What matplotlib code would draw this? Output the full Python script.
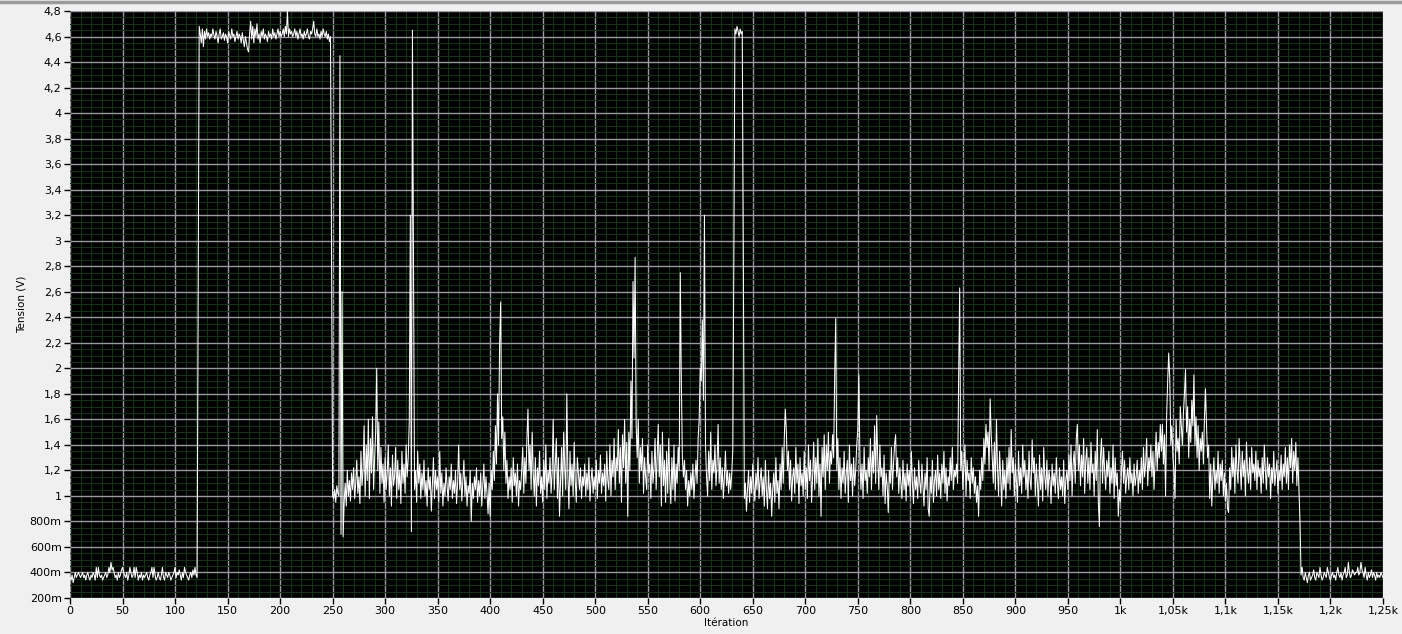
import numpy as np
import matplotlib
matplotlib.use("Agg")
import matplotlib.pyplot as plt
from matplotlib.ticker import MultipleLocator, FuncFormatter
from matplotlib.lines import Line2D

# ---- data (volts, one value per iteration) ----
low_start = [
    0.36,0.34,0.38,0.32,0.36,0.40,0.36,0.38,0.40,0.38,
    0.36,0.38,0.40,0.36,0.38,0.34,0.38,0.40,0.36,0.34,
    0.38,0.36,0.40,0.38,0.34,0.44,0.36,0.44,0.38,0.36,
    0.38,0.34,0.36,0.38,0.40,0.36,0.38,0.44,0.40,0.48,
    0.42,0.44,0.40,0.36,0.38,0.34,0.40,0.36,0.38,0.42,
    0.44,0.40,0.38,0.36,0.40,0.34,0.38,0.44,0.40,0.36,
    0.38,0.44,0.36,0.44,0.40,0.34,0.38,0.36,0.40,0.34,
    0.38,0.36,0.38,0.40,0.36,0.34,0.38,0.40,0.44,0.36,
    0.44,0.38,0.34,0.36,0.40,0.36,0.34,0.38,0.44,0.36,
    0.34,0.40,0.38,0.36,0.40,0.38,0.34,0.36,0.38,0.40,
    0.44,0.36,0.40,0.38,0.42,0.38,0.34,0.40,0.36,0.44,
    0.40,0.38,0.36,0.34,0.38,0.40,0.36,0.42,0.38,0.44,
    0.38,0.36,
]
rise = [2.52]
high_plateau = [
    4.68,4.62,4.55,4.66,4.52,4.64,4.58,4.66,4.60,4.63,
    4.58,4.62,4.60,4.66,4.61,4.58,4.64,4.60,4.55,4.62,
    4.66,4.58,4.60,4.63,4.57,4.62,4.60,4.55,4.64,4.61,
    4.58,4.66,4.60,4.62,4.56,4.60,4.64,4.58,4.62,4.60,
    4.55,4.63,4.57,4.52,4.60,4.55,4.50,4.48,4.62,4.72,
    4.58,4.68,4.55,4.66,4.60,4.70,4.58,4.62,4.55,4.64,
    4.60,4.66,4.58,4.62,4.60,4.56,4.64,4.60,4.62,4.58,
    4.66,4.60,4.63,4.58,4.62,4.66,4.60,4.64,4.60,4.62,
    4.66,4.60,4.68,4.62,4.80,4.60,4.66,4.62,4.64,4.60,
    4.62,4.66,4.60,4.64,4.58,4.62,4.66,4.60,4.62,4.58,
    4.64,4.60,4.62,4.66,4.60,4.58,4.64,4.62,4.66,4.72,
    4.62,4.60,4.66,4.60,4.62,4.58,4.64,4.60,4.66,4.62,
    4.60,4.64,4.58,4.62,4.56,4.60,
]
mid_noise = [
    2.90,1.00,0.98,1.05,0.95,1.08,1.02,1.00,4.45,0.70,
    2.60,0.68,0.95,1.10,0.92,1.20,1.00,1.12,0.96,1.18,
    1.05,1.22,0.98,1.10,1.28,1.02,1.15,0.94,1.35,1.08,
    1.20,1.55,1.00,1.40,1.12,1.60,0.98,1.45,1.18,1.62,
    1.05,1.30,1.50,2.00,1.20,1.58,1.02,1.38,1.10,1.25,
    0.95,1.30,1.05,1.18,1.40,1.00,1.22,0.92,1.32,1.08,
    1.15,1.38,0.98,1.28,1.05,1.20,0.94,1.35,1.10,1.25,
    1.02,1.40,1.15,1.30,1.58,3.20,0.72,4.65,2.75,1.05,
    1.20,0.95,1.35,1.10,1.25,0.98,1.18,1.05,1.28,1.00,
    1.12,0.92,1.22,1.05,1.15,0.88,1.10,1.30,0.98,1.20,
    1.05,1.15,0.95,1.35,1.02,1.18,0.92,1.10,1.00,1.22,
    1.08,0.96,1.15,1.05,1.25,0.98,1.12,1.02,1.20,0.94,
    1.10,1.40,1.05,1.18,0.96,1.12,1.28,1.00,1.15,0.92,
    1.08,1.02,1.20,0.80,1.10,0.98,1.15,1.05,1.22,0.95,
    1.12,1.00,1.18,0.92,1.08,1.25,0.98,1.15,1.02,0.86,
    1.10,0.84,1.20,1.05,1.35,1.12,1.55,1.25,1.80,1.40,
    2.20,2.52,1.45,1.62,1.20,1.50,1.10,1.28,0.98,1.15,
    1.05,1.22,0.95,1.30,1.08,1.18,1.00,1.25,0.92,1.12,
    1.05,1.20,1.38,1.02,1.30,1.10,1.45,1.68,1.20,1.40,
    1.05,1.50,1.18,1.00,1.30,0.92,1.22,1.08,1.35,1.02,
    1.15,0.95,1.28,1.05,1.40,0.98,1.20,1.10,1.30,1.02,
    1.18,1.60,1.05,1.25,1.45,0.98,1.30,0.84,1.12,1.38,
    1.00,1.50,1.22,1.05,1.80,1.15,0.90,1.35,1.08,1.25,
    1.00,1.42,1.12,0.95,1.30,1.18,1.05,1.22,0.98,1.15,
    1.08,1.25,1.00,1.18,1.05,1.30,0.96,1.12,1.22,1.02,
    1.15,1.05,1.28,0.98,1.20,1.10,1.32,1.02,1.18,1.08,
    1.25,0.96,1.35,1.12,1.05,1.40,1.00,1.28,1.15,1.45,
    1.05,1.30,1.20,1.52,1.10,1.38,0.95,1.48,1.22,1.60,
    1.10,1.42,0.84,1.50,1.20,1.90,1.45,2.68,2.08,2.87,
    1.55,1.30,1.60,1.10,1.38,1.20,1.45,1.02,1.30,1.15,
    1.05,1.40,1.18,1.25,0.98,1.35,1.10,1.22,1.45,1.05,
    1.30,1.56,1.15,1.40,0.92,1.50,1.08,1.28,0.95,1.35,
    1.02,1.45,1.12,0.94,1.30,1.05,1.40,0.96,1.25,1.10,
    1.38,1.20,2.75,1.90,1.30,1.15,1.28,1.05,1.20,0.92,
    1.12,1.00,1.18,1.05,1.25,0.98,1.15,1.28,1.10,1.45,
    1.60,2.00,1.90,2.38,1.75,3.20,1.40,1.15,1.00,1.35,
    1.12,1.50,1.05,1.28,1.18,1.40,1.08,1.25,1.56,1.10,
    1.30,1.05,1.22,0.98,1.15,1.35,1.08,1.20,1.02,1.18,
    1.05,1.18,1.36,2.88,4.66,4.62,4.68,4.64,4.60,4.66,
    4.62,4.64,2.92,0.98,1.10,0.88,1.05,1.20,0.95,1.15,
    1.02,1.25,1.08,0.96,1.18,1.05,1.30,0.98,1.12,1.22,
    1.00,1.15,0.92,1.28,1.05,0.90,1.20,0.98,1.10,0.84,
    1.05,1.18,0.95,1.30,1.02,1.12,0.90,1.25,1.05,1.38,
    1.10,1.45,1.68,1.50,1.20,1.35,1.05,1.28,0.96,1.15,
    1.22,1.02,1.38,1.10,1.25,0.94,1.30,1.08,1.18,1.00,
    1.35,1.05,1.22,0.98,1.40,1.12,1.28,0.95,1.15,1.42,
    1.05,1.30,1.10,1.45,1.00,1.25,0.84,1.38,1.15,1.48,
    1.05,1.40,1.20,1.50,1.10,1.35,1.25,1.48,1.30,1.95,
    2.39,1.20,1.45,1.05,1.30,0.98,1.22,1.10,1.35,1.02,
    1.18,1.28,0.95,1.40,1.12,1.25,1.00,1.30,1.08,1.20,
    1.40,1.52,1.95,1.30,1.05,1.25,0.98,1.38,1.12,1.20,
    1.02,1.30,1.15,1.45,1.05,1.35,1.18,1.55,1.10,1.63,
    1.28,1.05,1.40,1.15,1.22,1.00,1.32,0.94,1.18,1.08,
    0.87,1.20,1.10,1.38,1.05,1.25,1.40,1.48,1.15,1.30,
    1.02,1.22,1.10,0.98,1.28,1.05,1.18,0.96,1.25,1.08,
    1.20,1.00,1.35,1.10,0.94,1.22,1.05,1.15,0.98,1.28,
    1.10,1.02,1.25,1.08,0.92,1.18,1.05,1.30,0.90,0.84,
    1.15,1.02,1.28,0.95,1.12,1.20,1.00,1.32,1.05,1.18,
    0.98,1.25,1.10,1.35,1.02,1.22,0.96,1.15,1.08,1.30,
    1.12,1.38,1.05,1.20,1.15,1.25,1.10,1.93,2.63,1.20,
    1.35,1.05,1.22,1.40,1.00,1.28,1.12,1.18,0.98,1.30,
    1.10,1.22,1.02,1.15,0.95,1.08,0.84,1.20,1.05,1.30,
    1.12,1.45,1.25,1.56,1.38,1.50,1.20,1.76,1.48,1.30,
    1.10,1.42,1.05,1.60,1.22,1.00,1.35,1.15,0.92,1.28,
    1.05,1.20,0.98,1.30,1.10,1.38,1.05,1.52,1.18,1.30,
    1.00,1.25,1.12,0.95,1.35,1.08,1.22,1.02,1.40,1.15,
    1.28,1.05,1.20,0.98,1.35,1.12,1.05,1.44,1.18,1.30,
    1.00,1.25,1.10,0.92,1.32,1.05,1.22,0.96,1.38,1.15,
    1.05,1.28,1.00,1.20,1.12,0.94,1.25,1.08,1.18,1.02,
    1.30,1.10,0.98,1.22,1.05,1.15,1.00,1.28,0.94,1.12,
    1.20,1.05,1.32,1.12,1.40,1.00,1.25,1.35,1.10,1.45,
    1.56,1.20,1.40,1.08,1.32,1.15,1.45,1.02,1.28,1.38,
    1.10,1.30,1.05,1.42,1.18,1.25,1.00,1.35,1.12,1.52,
    0.95,0.76,1.30,1.45,1.10,1.38,1.20,1.05,1.28,1.15,
    1.35,1.02,1.22,1.10,1.40,0.98,1.30,1.08,1.18,0.84,
    1.05,0.95,1.20,1.35,1.10,1.28,1.02,1.15,1.22,1.05,
    1.30,1.10,1.18,1.00,1.25,1.08,1.15,1.28,1.02,1.20,
    1.10,1.30,1.05,1.38,1.15,1.25,1.45,1.08,1.30,1.20,
    1.40,1.15,1.35,1.05,1.28,1.50,1.20,1.42,1.30,1.56,
    1.35,1.56,1.25,1.48,1.00,1.62,1.90,2.12,1.92,1.40,
    1.55,1.30,1.20,0.98,1.60,1.35,1.45,1.25,1.70,1.55,
    1.40,1.65,1.80,1.99,1.50,1.70,1.30,1.60,1.42,1.75,
    1.55,1.95,1.40,1.62,1.30,1.55,1.20,1.45,1.35,1.50,
    1.25,1.60,1.84,1.55,1.30,1.40,0.98,1.25,0.92,1.15,
    1.30,1.05,1.20,1.10,1.35,1.02,1.25,1.12,1.28,1.00,
    1.18,0.96,1.10,0.90,0.87,1.22,1.05,1.38,1.15,1.30,
    1.02,1.40,1.20,1.10,1.45,1.25,1.05,1.35,1.15,1.28,
    1.00,1.42,1.20,1.10,1.30,1.05,1.38,1.18,1.25,1.12,
    1.35,1.05,1.28,1.15,1.22,1.02,1.30,1.10,1.40,1.20,
    1.05,1.30,1.15,1.25,0.98,1.22,1.10,1.35,1.08,1.18,
    1.28,1.02,1.20,1.12,1.32,1.05,1.25,1.15,1.38,1.10,
    1.30,1.05,1.40,1.22,1.45,1.10,1.35,1.20,1.42,1.08,
    1.30,1.05,0.79,
]
low_end = [
    0.38,0.44,0.36,0.34,0.40,0.36,0.32,0.38,0.40,0.34,
    0.36,0.38,0.42,0.36,0.34,0.40,0.38,0.36,0.44,0.38,
    0.34,0.36,0.40,0.38,0.36,0.44,0.40,0.36,0.34,0.38,
    0.40,0.36,0.38,0.34,0.40,0.44,0.38,0.36,0.40,0.34,
    0.38,0.40,0.44,0.36,0.38,0.48,0.40,0.36,0.38,0.42,
    0.40,0.38,0.40,0.40,0.44,0.38,0.40,0.48,0.42,0.40,
    0.36,0.44,0.38,0.34,0.40,0.36,0.38,0.42,0.36,0.40,
    0.38,0.34,0.40,0.36,0.38,0.36,0.40,0.38,0.36,
]

x_label = "Itération"
y_label = "Tension (V)"

signal = np.array(low_start + rise + high_plateau + mid_noise + low_end)
iterations = np.arange(len(signal))

# ---- figure ----
W, H = 1402, 634
fig = plt.figure(figsize=(W / 100, H / 100), dpi=100, facecolor="#f0f0f0")
ax = fig.add_axes([70 / W, 1 - 598 / H, (1383 - 70) / W, (598 - 11) / H])
ax.set_facecolor("black")

ax.plot(iterations, signal, color="white", lw=0.75, zorder=3)

ax.set_xlim(0, 1250)
ax.set_ylim(0.2, 4.8)

ax.xaxis.set_major_locator(MultipleLocator(50))
ax.xaxis.set_minor_locator(MultipleLocator(10))
ax.yaxis.set_major_locator(MultipleLocator(0.2))
ax.yaxis.set_minor_locator(MultipleLocator(0.05))


def fmt_x(v, pos):
    v = int(round(v))
    if v < 1000:
        return str(v)
    return ("%g" % (v / 1000)).replace(".", ",") + "k"


def fmt_y(v, pos):
    v = round(v, 3)
    if v < 1:
        return "%dm" % int(round(v * 1000))
    return ("%g" % v).replace(".", ",")


ax.xaxis.set_major_formatter(FuncFormatter(fmt_x))
ax.yaxis.set_major_formatter(FuncFormatter(fmt_y))

ax.grid(which="minor", color="#163216", lw=0.8, zorder=1)
ax.grid(which="major", color="#9c98a2", lw=1.0, zorder=2)
ax.set_axisbelow(True)

for s in ax.spines.values():
    s.set_visible(False)

ax.tick_params(which="major", direction="out", length=4, width=1, color="black",
               labelsize=8, labelcolor="black", pad=2)
ax.tick_params(which="minor", length=0)

ax.set_xlabel(x_label, fontsize=7.5, labelpad=1)
ax.set_ylabel(y_label, fontsize=7.5, labelpad=2)

# window frame line at top
fig.add_artist(Line2D([0, 1], [1 - 1.5 / H, 1 - 1.5 / H], transform=fig.transFigure,
                      color="#9a9a9a", lw=2.5))

fig.savefig("out.png", dpi=100, facecolor=fig.get_facecolor())
